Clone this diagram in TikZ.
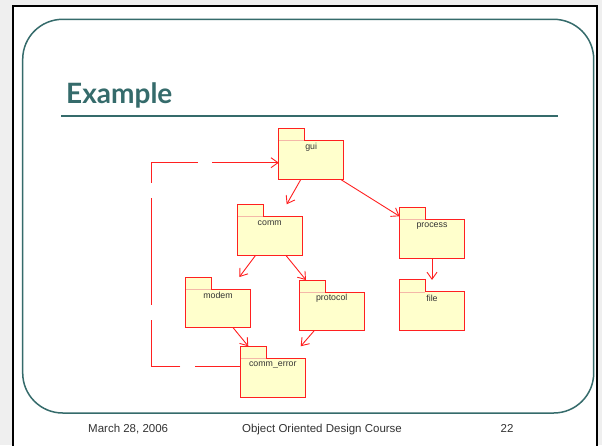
\documentclass[tikz,border=0pt]{standalone}
\usepackage{fontspec}
\setmainfont{Liberation Sans}
\newfontfamily\titlefont{Lato}
\usetikzlibrary{arrows.meta,calc}

\definecolor{slideteal}{HTML}{356B6B}
\definecolor{pkgfill}{HTML}{FFFFCC}
\definecolor{pkgred}{HTML}{FF2020}
\definecolor{tabline}{HTML}{F4B8A8}
\definecolor{txtgray}{HTML}{333333}
\definecolor{outside}{HTML}{EFEFEF}

\tikzset{
  pkgbb/.style={minimum width=64.5pt, minimum height=50.5pt, inner sep=0pt, draw=none},
  pkgline/.style={draw=pkgred, fill=pkgfill, line width=1pt, line join=miter},
  pkgtext/.style={font=\fontsize{8.8}{10}\selectfont, text=txtgray, inner sep=0pt},
  dep/.style={draw=pkgred, line width=0.9pt, -{Straight Barb[length=7pt,width=10pt]}},
  footer/.style={font=\fontsize{11.5}{13}\selectfont, text=txtgray, inner sep=0pt},
}

% UML package: folder tab on top of a box, name just under the tab
\newcommand{\pkgbox}[4]{%
  \node[pkgbb] (#1) at (#2,#3) {};
  \path[pkgline] (#1.north west) -- ($(#1.north west)+(26,0)$)
    -- ($(#1.north west)+(26,12)$) -- ($(#1.north east)+(0,12)$)
    -- (#1.south east) -- (#1.south west) -- cycle;
  \draw[tabline, line width=0.8pt] ($(#1.north west)+(0.6,12)$) -- ($(#1.north west)+(25.5,12)$);
  \node[pkgtext] (#1-name) at ($(#1.north)+(0,18.6)$) {#4};
}

\begin{document}
\begin{tikzpicture}[x=1pt, y=-1pt]
  \useasboundingbox (0,0) rectangle (602,445);
  \fill[outside] (0,0) rectangle (602,445);
  \fill[white] (12.7,5.7) rectangle (597,445);
  \draw[black, line width=2.2pt] (12.7,450) -- (12.7,5.7) -- (597,5.7) -- (597,450);

  % slide frame and title
  \draw[slideteal, line width=1.5pt, rounded corners=40pt] (22.7,19.3) rectangle (593.7,413);
  \node[anchor=base west, inner sep=0pt, text=slideteal, font=\titlefont\bfseries\fontsize{28}{30}\selectfont] (title) at (66,103) {Example};
  \draw[slideteal, line width=2pt] (61,115.7) -- (558,115.7);

  % packages
  \pkgbox{gui}{311.2}{154.2}{gui}
  \pkgbox{comm}{269.7}{229.7}{comm}
  \pkgbox{modem}{218}{302.5}{modem}
  \pkgbox{protocol}{331.7}{305.5}{protocol}
  \pkgbox{ce}{272.8}{371.7}{comm\_error}
  \pkgbox{process}{432}{233.3}{process}
  \pkgbox{file}{432}{305.4}{file}

  % dependencies
  \draw[dep] ([xshift=-10.5pt]gui.south) -- ([xshift=17pt]comm.north);
  \draw[dep] ([xshift=29.8pt]gui.south) -- ([yshift=-8.4pt]process.north west);
  \draw[dep] ([xshift=-14pt]comm.south) -- ([xshift=21.3pt]modem.north);
  \draw[dep] ([xshift=16pt]comm.south) -- ([xshift=-25.7pt]protocol.north);
  \draw[dep] ([xshift=15.3pt]modem.south) -- ([xshift=-24.5pt]ce.north);
  \draw[dep] ([xshift=-17.7pt]protocol.south) -- ([xshift=27.9pt]ce.north);
  \draw[dep] (process.south) -- (file.north);

  % long dashed dependency around the left side
  \coordinate (lowcorner) at (151.7,366.7);
  \coordinate (topcorner) at (151.7,162.7);
  \draw[dep, dash pattern=on 45.7pt off 14.3pt on 75pt off 15.7pt on 107pt off 15pt on 66pt off 14.4pt on 90pt]
    ([yshift=5pt]ce.west) -- (lowcorner) -- (topcorner) -- ([yshift=-8.5pt]gui.west);

  % footer
  \node[footer, anchor=base west] (date) at (88,432) {March 28, 2006};
  \node[footer, anchor=base] (course) at (322,432) {Object Oriented Design Course};
  \node[footer, anchor=base] (page) at (507,432) {22};
\end{tikzpicture}
\end{document}
